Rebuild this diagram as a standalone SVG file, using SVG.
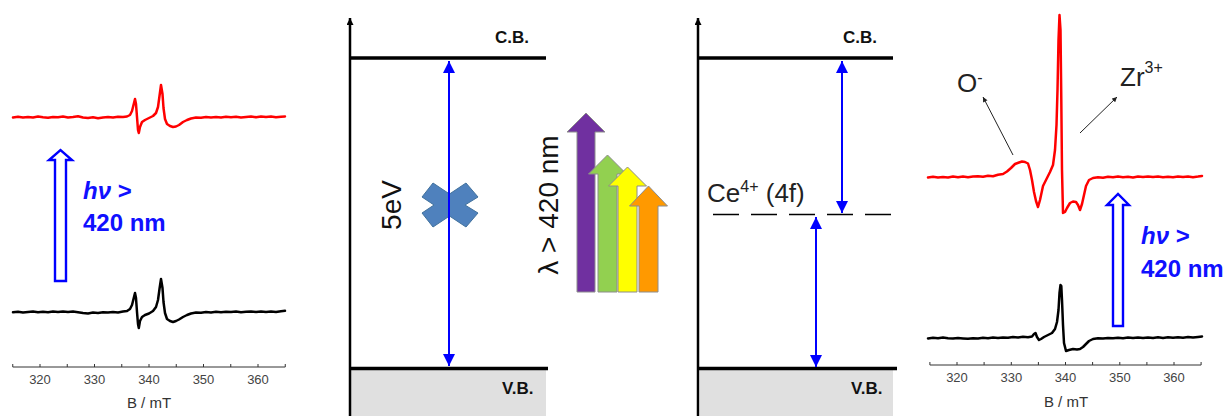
<svg xmlns="http://www.w3.org/2000/svg" width="1224" height="416" viewBox="0 0 1224 416">
<defs>
<style>
.spec{fill:none;stroke-width:2.5;stroke-linejoin:round;stroke-linecap:round}
.red{stroke:#ff0000}.blk{stroke:#000}
.ax{fill:none;stroke:#333;stroke-width:1}
.tick{font-family:"Liberation Sans",Arial,sans-serif;font-size:13px;fill:#444;text-anchor:middle}
.xlab{font-family:"Liberation Sans",Arial,sans-serif;font-size:15px;fill:#333;text-anchor:middle}
.hv{font-family:"Liberation Sans",Arial,sans-serif;font-size:24px;font-weight:bold;fill:#1010ff}
.hollow{fill:#fff;stroke:#0000ff;stroke-width:2.4;stroke-linejoin:miter}
.lvl{stroke:#000;stroke-width:3.5;fill:none}
.axis{stroke:#000;stroke-width:2.5;fill:none}
.band{font-family:"Liberation Sans",Arial,sans-serif;font-size:17px;font-weight:bold;fill:#111}
.big{font-family:"Liberation Sans",Arial,sans-serif;font-size:28px;fill:#111}
.lbl{font-family:"Liberation Sans",Arial,sans-serif;font-size:26px;fill:#222}
.barrow{stroke:#0000ff;stroke-width:2;fill:none}
.rb{stroke:#8c8c8c;stroke-width:1}
.thin{stroke:#222;stroke-width:1;fill:none}
</style>
<marker id="bh" viewBox="0 0 12 12" refX="12" refY="6" markerWidth="12" markerHeight="12" markerUnits="userSpaceOnUse" orient="auto-start-reverse"><path d="M0,0 L12,6 L0,12 Z" fill="#0000ff"/></marker>
<marker id="ah" viewBox="0 0 8 8" refX="8" refY="4" markerWidth="8" markerHeight="7" markerUnits="userSpaceOnUse" orient="auto"><path d="M0,0 L8,4 L0,8 Z" fill="#000"/></marker>
<marker id="sh" viewBox="0 0 6 6" refX="6" refY="3" markerWidth="6" markerHeight="5" markerUnits="userSpaceOnUse" orient="auto"><path d="M0,0 L6,3 L0,6 Z" fill="#222"/></marker>
</defs>
<rect width="1224" height="416" fill="#fff"/>

<g id="spectrum-left">
<path class="spec red" d="M13,117.5 L18,116.8 L23,117.6 L28,117 L33,117.4 L38,116.6 L43,117.3 L48,117.8 L53,116.9 L58,117.2 L63,116.5 L68,117.4 L73,117 L78,116.2 L83,117.5 L88,118 L93,117.3 L98,118.2 L103,117.4 L108,117 L113,117.6 L118,116.8 L123,117 L127,116.5 L130,115 L132,111 L134,103 L135,99 L136,104 L137,117 L138,130 L138.8,133 L140,127 L142,122 L145,120 L149,118 L153,116 L156,113 L158,107 L159.5,96 L161,85 L162.5,94 L163.5,108 L165,119 L167,124 L170,126 L173,127 L176,126.5 L179,125 L183,122 L187,120 L191,118.5 L196,117.5 L201,117.8 L206,116.9 L211,117.4 L216,117 L221,117.6 L226,116.7 L231,117.2 L236,116.8 L241,117.5 L246,117 L251,116.4 L256,117.2 L261,116.5 L266,117.1 L271,116.6 L276,117.3 L281,116.7 L285,116.5"/>
<path class="spec blk" d="M13,312.3 L18,311.7 L23,312.4 L28,312 L33,311.6 L38,312.3 L43,311.8 L48,312.2 L53,311.5 L58,312 L63,311.4 L68,311.9 L73,311.6 L78,312.3 L83,313 L88,313.4 L93,312.6 L98,312.9 L103,312.2 L108,312.6 L113,312 L118,312.4 L123,311.5 L127,311 L130,309 L132,305 L134,297 L135,293 L136,298 L137,312 L138,324 L138.8,328 L140,321 L142,317 L145,315 L149,313.5 L153,311 L156,307 L158,300 L159.5,289 L161,279 L162.5,288 L163.5,302 L165,313 L167,319 L170,321 L173,322 L176,321 L179,319.5 L183,317 L187,315 L191,313.5 L196,312.5 L201,312.8 L206,312 L211,312.4 L216,311.8 L221,312.3 L226,311.7 L231,312.1 L236,311.6 L241,312.2 L246,311.8 L251,311.5 L256,312 L261,311.4 L266,312 L271,311.6 L276,311.9 L281,311.2 L285,310.8"/>
<path class="ax" d="M12.75,367 H285.25 M12.75,367 v-3 M40,367 v-3 M67.25,367 v-3 M94.5,367 v-3 M121.75,367 v-3 M149,367 v-3 M176.25,367 v-3 M203.5,367 v-3 M230.75,367 v-3 M258,367 v-3 M285.25,367 v-3"/>
<text class="tick" x="40" y="384">320</text><text class="tick" x="94.5" y="384">330</text><text class="tick" x="149" y="384">340</text><text class="tick" x="203.5" y="384">350</text><text class="tick" x="258" y="384">360</text>
<text class="xlab" x="149" y="408">B / mT</text>
<path class="hollow" d="M55,281 V160 H49 L60.5,150 L72,160 H66 V281 Z"/>
<text class="hv" x="83" y="199"><tspan font-style="italic">hν</tspan> &gt;</text>
<text class="hv" x="83" y="231">420 nm</text>
</g>

<g id="band-diagram-pure">
<rect x="351" y="370" width="195" height="46" fill="#e0e0e0"/>
<path class="axis" d="M350,416 V18" marker-end="url(#ah)"/>
<path class="lvl" d="M349,58 H546"/>
<path class="lvl" d="M349,368.5 H548"/>
<text class="band" x="495" y="43">C.B.</text>
<text class="band" x="502" y="394">V.B.</text>
<text class="big" transform="translate(401,205) rotate(-90)" text-anchor="middle">5eV</text>
<path d="M433,183 L449.5,194 L466,183 L478,197 L465,205 L478,213 L466,227 L449.5,216 L433,227 L422,213 L434,205 L422,197 Z" fill="#4f81bd" stroke="#41719c" stroke-width="1" stroke-linejoin="round"/>
</g>

<g id="visible-light">
<text class="big" transform="translate(558,205) rotate(-90)" text-anchor="middle" font-size="29">λ &gt; 420 nm</text>
<path class="rb" fill="#7030a0" d="M577,292 V132 H567 L586,113 L605,132 H595 V292 Z"/>
<path class="rb" fill="#92d050" d="M598,292 V174 H588.5 L607.5,155 L626.5,174 H617 V292 Z"/>
<path class="rb" fill="#ffff00" d="M618,292 V186 H608.5 L627.5,167 L646.5,186 H637 V292 Z"/>
<path class="rb" fill="#ff9900" d="M639,292 V206 H629.5 L648.5,186 L667.5,206 H658 V292 Z"/>
</g>

<g id="band-diagram-ce">
<rect x="700" y="370" width="193" height="46" fill="#e0e0e0"/>
<path class="axis" d="M698,416 V18" marker-end="url(#ah)"/>
<path class="lvl" d="M697,58 H893"/>
<path class="lvl" d="M697,368.5 H897"/>
<text class="band" x="843" y="43">C.B.</text>
<text class="band" x="851" y="394">V.B.</text>
<path d="M713,214.5 H891" stroke="#000" stroke-width="1.6" stroke-dasharray="26 12"/>
<text class="lbl" x="707" y="202" font-size="27">Ce<tspan font-size="16" dy="-10">4+</tspan><tspan dy="10"> (4f)</tspan></text>
</g>

<g id="spectrum-right">
<path class="spec red" d="M928,177.5 L933,176.8 L938,177.6 L943,177 L948,177.4 L953,176.6 L958,177.3 L963,176.5 L968,177.2 L973,176.6 L978,176.2 L983,176.8 L988,175.8 L993,176.2 L998,174.8 L1003,174 L1007,171.5 L1011,168 L1015,164 L1019,162.5 L1022,161.5 L1025,162 L1028,163.5 L1030,170 L1032,180 L1034,192 L1036,201 L1038,207 L1040,200 L1043,186 L1047,178 L1050,172 L1053,165 L1055,150 L1056.5,125 L1057.5,90 L1058.5,40 L1059.5,15 L1060.5,30 L1061.3,100 L1062,170 L1063,213 L1065,212 L1067,208 L1070,203 L1073,201.5 L1076,202 L1078,205 L1080,210 L1082,204 L1084,195 L1086,186 L1089,180 L1093,178 L1098,177.2 L1103,177.8 L1108,176.8 L1113,177.3 L1118,176.5 L1123,177.2 L1128,176.8 L1133,177.4 L1138,176.5 L1143,177 L1148,176.4 L1153,177.1 L1158,176.6 L1163,177.3 L1168,176.7 L1173,177.2 L1178,176.5 L1183,177.1 L1188,176.4 L1193,177.2 L1198,176.6 L1202,176"/>
<path class="spec blk" d="M928,338.4 L933,337.8 L938,338.3 L943,337.6 L948,338.2 L953,338.6 L958,337.9 L963,338.4 L968,338.8 L973,338.2 L978,338.5 L983,337.8 L988,338.2 L993,337.6 L998,338.1 L1003,337.4 L1008,337.8 L1013,337 L1018,337.4 L1023,336.8 L1028,337.2 L1032,336.5 L1034,334 L1035.5,333 L1037,337 L1039,340 L1041,339 L1044,337 L1048,335 L1052,333 L1055,329 L1057,322 L1058.5,310 L1059.5,293 L1060.5,285 L1061.3,286 L1062,300 L1063,325 L1064,343 L1066,351 L1069,350 L1073,349 L1077,349.5 L1080,349 L1083,347 L1086,344 L1089,341 L1093,339 L1098,338.2 L1103,338.6 L1108,337.9 L1113,338.3 L1118,337.7 L1123,338.2 L1128,337.6 L1133,338.1 L1138,337.5 L1143,338 L1148,337.4 L1153,338 L1158,337.3 L1163,337.9 L1168,337.3 L1173,337.8 L1178,337.2 L1183,337.7 L1188,337.1 L1193,337.6 L1198,337 L1202,336.5"/>
<path class="ax" d="M929.9,365 H1201.1 M929.9,365 v-3 M957,365 v-3 M984.1,365 v-3 M1011.3,365 v-3 M1038.4,365 v-3 M1065.5,365 v-3 M1092.6,365 v-3 M1119.8,365 v-3 M1146.9,365 v-3 M1174,365 v-3 M1201.1,365 v-3"/>
<text class="tick" x="957" y="382">320</text><text class="tick" x="1011.3" y="382">330</text><text class="tick" x="1065.5" y="382">340</text><text class="tick" x="1119.8" y="382">350</text><text class="tick" x="1174" y="382">360</text>
<text class="xlab" x="1066" y="407">B / mT</text>
<text class="lbl" x="957" y="92">O<tspan font-size="16" dy="-9">-</tspan></text>
<text class="lbl" x="1120" y="86" font-size="25">Zr<tspan font-size="16" dy="-13">3+</tspan></text>
<path class="hollow" d="M1113,326 V205 H1107 L1118,194 L1129,205 H1123 V326 Z"/>
<text class="hv" x="1141" y="244"><tspan font-style="italic">hν</tspan> &gt;</text>
<text class="hv" x="1141" y="277">420 nm</text>
</g>

<g id="connectors">
<path class="barrow" d="M449,61 V366" marker-start="url(#bh)" marker-end="url(#bh)"/>
<path class="barrow" d="M842,61 V213" marker-start="url(#bh)" marker-end="url(#bh)"/>
<path class="barrow" d="M816,217 V367" marker-start="url(#bh)" marker-end="url(#bh)"/>
<path class="thin" d="M1013,155 L983,97" marker-end="url(#sh)"/>
<path class="thin" d="M1080,133 L1117,97" marker-end="url(#sh)"/>
</g>
</svg>
